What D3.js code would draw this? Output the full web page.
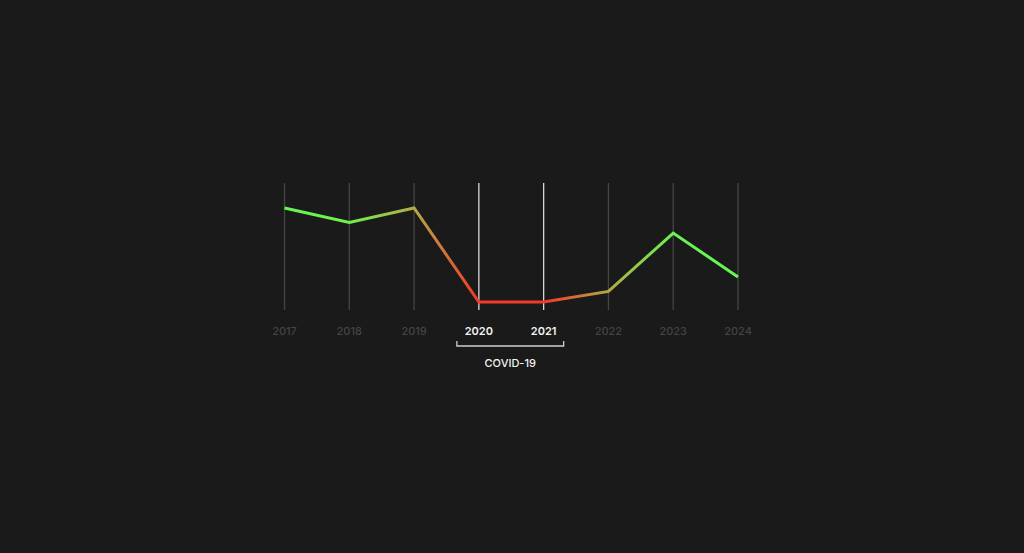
<!DOCTYPE html>
<html>
<head>
<meta charset="utf-8">
<script src="https://cdn.jsdelivr.net/npm/d3@7"></script>
<style>
  html, body { margin: 0; padding: 0; background: #1a1a1a; }
  svg { display: block; }
  text { font-family: Inter, "Noto Sans", sans-serif; }
</style>
</head>
<body>
<svg id="chart" width="1024" height="553"></svg>
<script>
// years along the axis and the index (0..100 scale)
const years = ["2017", "2018", "2019", "2020", "2021", "2022", "2023", "2024"]
const values = [80.3, 68.9, 80.3, 6.3, 6.3, 14.6, 60.6, 26.0]
const highlight = ["2020", "2021"]
const bracketLabel = "COVID-19"
// colour stop per year for the gradient
const stopColors = ["#66f552", "#70f04f", "#b3a944", "#f2382a", "#f2382a", "#b3a944", "#66f552", "#66f552"]

const W = 1024, H = 553
const svg = d3.select("#chart")

const x = d3.scalePoint()
    .domain(years)
    .range([284.5, 738])

const y = d3.scaleLinear()
    .domain([0, 100])
    .range([310, 183])

svg.append("rect").attr("width", W).attr("height", H).attr("fill", "#1a1a1a")

// gradient running left to right over the line
const grad = svg.append("defs").append("linearGradient")
    .attr("id", "lineGrad")
    .attr("gradientUnits", "userSpaceOnUse")
    .attr("x1", x.range()[0]).attr("x2", x.range()[1])
    .attr("y1", 0).attr("y2", 0)
grad.selectAll("stop")
    .data(years)
    .join("stop")
    .attr("offset", (d, i) => i / (years.length - 1))
    .attr("stop-color", (d, i) => stopColors[i])

// vertical grid lines
svg.append("g")
    .selectAll("line")
    .data(years)
    .join("line")
    .attr("x1", d => x(d)).attr("x2", d => x(d))
    .attr("y1", y(100)).attr("y2", y(0))
    .attr("stroke", d => highlight.includes(d) ? "#d8d8d8" : "#454545")
    .attr("stroke-width", 1.3)

// year labels
svg.append("g")
    .selectAll("text")
    .data(years)
    .join("text")
    .attr("x", d => x(d))
    .attr("y", 335)
    .attr("text-anchor", "middle")
    .attr("font-size", 11)
    .attr("font-weight", d => highlight.includes(d) ? 600 : 500)
    .attr("fill", d => highlight.includes(d) ? "#f2f2f2" : "#444444")
    .text(d => d)

// the line
const line = d3.line()
    .x((d, i) => x(years[i]))
    .y(d => y(d))

svg.append("path")
    .datum(values)
    .attr("d", line)
    .attr("fill", "none")
    .attr("stroke", "url(#lineGrad)")
    .attr("stroke-width", 3)
    .attr("stroke-linejoin", "miter")

// bracket under the highlighted years
const bx0 = x(highlight[0]) - 22, bx1 = x(highlight[1]) + 20
svg.append("path")
    .attr("d", `M${bx0},341 V346 H${bx1} V341`)
    .attr("fill", "none")
    .attr("stroke", "#cfcfcf")
    .attr("stroke-width", 1.3)

svg.append("text")
    .attr("x", (bx0 + bx1) / 2)
    .attr("y", 367)
    .attr("text-anchor", "middle")
    .attr("font-size", 11)
    .attr("font-weight", 500)
    .attr("fill", "#f2f2f2")
    .text(bracketLabel)
</script>
</body>
</html>
